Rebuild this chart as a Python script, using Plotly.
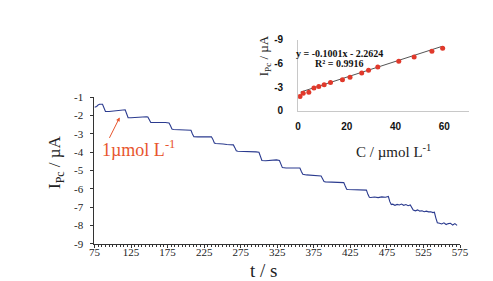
import plotly.graph_objects as go

# Main amperometric trace (time in s, current in µA)
t_s = [75, 78, 80, 82, 86, 88, 90, 95, 100, 105, 110, 115, 117,
       119, 121, 125, 130, 135, 140, 146, 148,
       150, 152, 157, 162, 167, 172, 177,
       179, 181, 183, 188, 193, 198, 203, 207,
       209, 211, 216, 221, 226, 231, 235,
       237, 239, 241, 246, 251, 256, 261, 265,
       267, 269, 271, 276, 281, 286, 291, 296, 300,
       302, 304, 309, 314, 319, 324, 328,
       330, 332, 337, 342, 347, 352, 356,
       358, 360, 365, 370, 375, 380, 385,
       387, 389, 391, 396, 401, 406, 411, 416,
       418, 420, 422, 427, 432, 437, 442, 447,
       449, 451, 453, 458, 463, 468, 473, 477,
       479, 481, 483, 486, 489, 492, 495, 498, 501, 504, 507,
       509, 511, 514, 517, 520, 523, 526, 529, 532, 535, 538, 540,
       542, 544, 547, 550, 553, 556, 559, 562, 565, 568, 571]
i_uA = [-1.55, -1.50, -1.42, -1.38, -1.38, -1.55, -1.78, -1.78, -1.76, -1.74, -1.72, -1.68, -1.68,
        -1.90, -2.12, -2.12, -2.10, -2.10, -2.08, -2.06, -2.08,
        -2.25, -2.38, -2.38, -2.40, -2.38, -2.38, -2.40,
        -2.55, -2.74, -2.76, -2.76, -2.78, -2.76, -2.76, -2.80,
        -3.00, -3.15, -3.16, -3.18, -3.16, -3.16, -3.16,
        -3.30, -3.50, -3.52, -3.52, -3.55, -3.58, -3.60, -3.60,
        -3.75, -3.92, -3.95, -3.95, -3.97, -3.96, -3.98, -3.98, -4.00,
        -4.25, -4.45, -4.47, -4.45, -4.43, -4.42, -4.45,
        -4.65, -4.84, -4.86, -4.86, -4.85, -4.84, -4.86,
        -5.05, -5.20, -5.24, -5.26, -5.26, -5.28, -5.30,
        -5.45, -5.60, -5.62, -5.62, -5.64, -5.64, -5.66, -5.66,
        -5.85, -6.02, -6.04, -6.04, -6.06, -6.05, -6.08, -6.07,
        -6.30, -6.46, -6.47, -6.45, -6.48, -6.44, -6.46, -6.42,
        -6.70, -6.86, -6.84, -6.90, -6.85, -6.88, -6.83, -6.90, -6.86, -6.92, -6.88,
        -7.05, -7.16, -7.20, -7.15, -7.22, -7.20, -7.25, -7.22, -7.26, -7.25, -7.30, -7.28,
        -7.60, -7.85, -7.88, -7.92, -7.86, -7.95, -7.90, -7.88, -7.98, -7.90, -8.00]

# Calibration (inset)
conc = [0.8, 2.1, 4.4, 6.5, 8.5, 10.7, 13.3, 18.2, 21.3, 26.1, 28.9, 32.7, 41.3, 47.6, 54.9, 59.3]
peak = [-1.80, -2.23, -2.35, -2.88, -3.08, -3.28, -3.57, -3.93, -4.26, -4.78, -5.15, -5.56, -6.29, -6.81, -7.54, -7.94]
slope, intercept = -0.1001, -2.2624
fit_x = [1.0, 59.0]
fit_y = [slope * x + intercept for x in fit_x]

main_x_ticks = [75, 125, 175, 225, 275, 325, 375, 425, 475, 525, 575]
main_y_ticks = [-1, -2, -3, -4, -5, -6, -7, -8, -9]
main_y_labels = ["-1", "-2", "-3", "-4", "-5", "-6", "-7", "-8", "-9"]
inset_x_ticks = [0, 20, 40, 60]
inset_y_ticks = [0, -3, -6, -9]
inset_y_labels = ["0", "-3", "-6", "-9"]

W, H = 493, 281
def px(x):
    return x / W
def py(y):
    return 1 - y / H

SERIF = "Liberation Serif, Times New Roman, serif"
SANS = "Liberation Sans, Arial, sans-serif"

fig = go.Figure()
fig.add_trace(go.Scatter(x=t_s, y=i_uA, mode="lines",
                         line=dict(color="#2b3b8f", width=1.1),
                         xaxis="x", yaxis="y", showlegend=False))
fig.add_trace(go.Scatter(x=fit_x, y=fit_y, mode="lines",
                         line=dict(color="#555555", width=1),
                         xaxis="x2", yaxis="y2", showlegend=False))
fig.add_trace(go.Scatter(x=conc, y=peak, mode="markers",
                         marker=dict(color="#e0392b", size=5),
                         xaxis="x2", yaxis="y2", showlegend=False))

fig.update_layout(
    width=W, height=H,
    margin=dict(l=0, r=0, t=0, b=0),
    paper_bgcolor="white", plot_bgcolor="rgba(0,0,0,0)",
    xaxis=dict(domain=[px(83), px(460)], range=[75, 575],
               tickvals=main_x_ticks, showgrid=False, zeroline=False,
               showline=True, linecolor="#333", linewidth=1,
               ticks="outside", ticklen=3, tickcolor="#333",
               minor=dict(dtick=5, ticks="outside", ticklen=2, tickcolor="#333"),
               tickfont=dict(family=SERIF, size=11, color="#222"),
               ticklabelstandoff=-5,
               anchor="y"),
    yaxis=dict(domain=[py(240), py(87)], range=[-9, -1],
               tickvals=main_y_ticks, ticktext=main_y_labels,
               showgrid=False, zeroline=False,
               showline=True, linecolor="#333", linewidth=1,
               ticks="outside", ticklen=3, tickcolor="#333",
               tickfont=dict(family=SERIF, size=11, color="#222"),
               ticklabelstandoff=5,
               anchor="x"),
    xaxis2=dict(domain=[px(293), px(469)], range=[0, 70],
                tickvals=inset_x_ticks, showgrid=False, zeroline=False,
                showline=True, linecolor="#c8c8c8", linewidth=1,
                ticks="", tickfont=dict(family=SANS, size=10, color="#111", weight="bold"),
                ticklabelstandoff=6,
                anchor="y2"),
    yaxis2=dict(domain=[py(101), py(27)], range=[0, -9],
                tickvals=inset_y_ticks, ticktext=inset_y_labels,
                showgrid=False, zeroline=False,
                showline=True, linecolor="#c8c8c8", linewidth=1,
                ticks="", tickfont=dict(family=SANS, size=10, color="#111", weight="bold"),
                ticklabelstandoff=12,
                anchor="x2"),
)

ann = [
    dict(x=px(44), y=py(155), text="I<sub>Pc</sub> / µA", textangle=-90,
         font=dict(family=SERIF, size=17, color="#222")),
    dict(x=px(257), y=py(268), text="t / s",
         font=dict(family=SERIF, size=19, color="#222")),
    dict(x=px(128), y=py(141), text="1µmol L<sup>-1</sup>",
         font=dict(family=SERIF, size=18, color="#e8552d")),
    dict(x=px(258), y=py(44), text="I<sub>Pc</sub> / µA", textangle=-90,
         font=dict(family=SERIF, size=13, color="#222")),
    dict(x=px(391), y=py(143), text="C / µmol L<sup>-1</sup>",
         font=dict(family=SERIF, size=15, color="#222")),
    dict(x=px(336), y=py(41), text="y = -0.1001x - 2.2624",
         font=dict(family=SERIF, size=10, color="#111", weight="bold")),
    dict(x=px(335), y=py(52), text="R² = 0.9916",
         font=dict(family=SERIF, size=10, color="#111", weight="bold")),
]
for a in ann:
    a.update(xref="paper", yref="paper", showarrow=False,
             xanchor="center", yanchor="middle")
    fig.add_annotation(**a)

fig.add_annotation(xref="paper", yref="paper", axref="pixel", ayref="pixel",
                   x=px(109), y=py(108), ax=-11, ay=22, text="",
                   showarrow=True, arrowhead=2, arrowsize=0.8, arrowwidth=1,
                   arrowcolor="#e8552d")

fig.write_html("out.html")
